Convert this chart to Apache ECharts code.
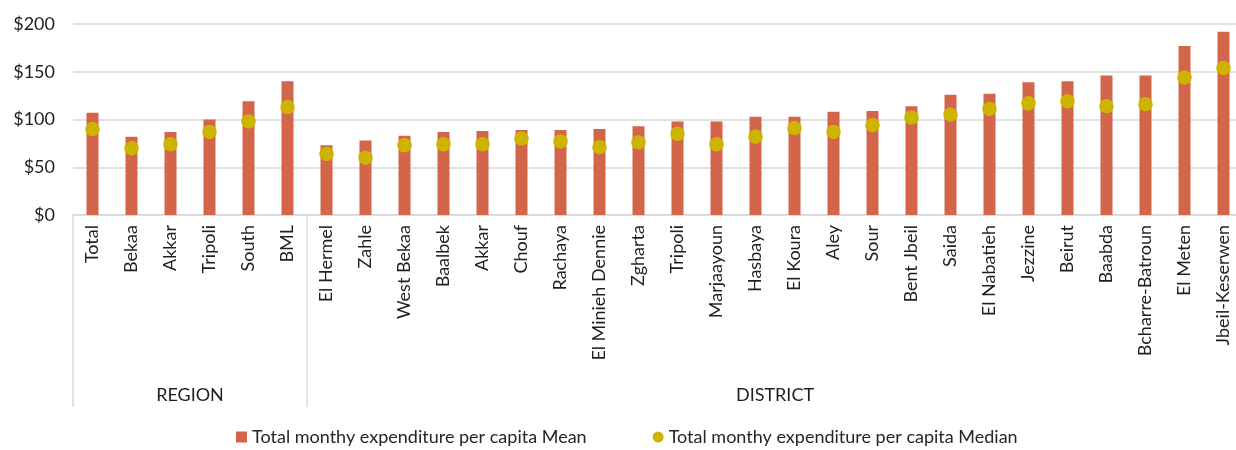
<!DOCTYPE html>
<html>
<head>
<meta charset="utf-8">
<title>Total monthly expenditure per capita</title>
<script src="https://cdn.jsdelivr.net/npm/echarts@6/dist/echarts.min.js"></script>
<style>
  html, body { margin: 0; padding: 0; background: #fff; }
  #chart { width: 1236px; height: 450px; }
</style>
</head>
<body>
<div id="chart"></div>
<script>
// Category names, split by grouping level
const regionNames = ['Total', 'Bekaa', 'Akkar', 'Tripoli', 'South', 'BML'];
const districtNames = [
  'El Hermel', 'Zahle', 'West Bekaa', 'Baalbek', 'Akkar', 'Chouf', 'Rachaya',
  'El Minieh Dennie', 'Zgharta', 'Tripoli', 'Marjaayoun', 'Hasbaya', 'El Koura',
  'Aley', 'Sour', 'Bent Jbeil', 'Saida', 'El Nabatieh', 'Jezzine', 'Beirut',
  'Baabda', 'Bcharre-Batroun', 'El Meten', 'Jbeil-Keserwen'
];
const groupLabels = ['REGION', 'DISTRICT'];

// Monthly expenditure per capita (USD)
const regionMean = [107, 82, 87, 100, 119, 140];
const districtMean = [
  73, 78, 83, 87, 88, 89, 89, 90, 93, 98, 98, 103, 103,
  108, 109, 114, 126, 127, 139, 140, 146, 146, 177, 192
];
const regionMedian = [90, 70, 74, 87, 98, 113];
const districtMedian = [
  64, 60, 73, 74, 74, 80, 77, 71, 76, 85, 74, 82, 91,
  87, 94, 102, 105, 111, 117, 119, 114, 116, 144, 154
];

const yTicks = { min: 0, max: 200, interval: 50 };
const seriesNames = [
  'Total monthy expenditure per capita Mean',
  'Total monthy expenditure per capita Median'
];

const categories = regionNames.concat(districtNames);
const meanValues = regionMean.concat(districtMean);
const medianValues = regionMedian.concat(districtMedian);

// Group boundaries and group label centres along the category scale
const groupSizes = [regionNames.length, districtNames.length];
const boundaries = [0];
const centres = [];
groupSizes.forEach(function (n, i) {
  const start = boundaries[i];
  boundaries.push(start + n);
  centres.push(start + n / 2);
});

const FONT = 'Lato, "Open Sans", sans-serif';
const FS = 18;
const TEXT = '#1f1f1f';
const BAR = '#D3654B';
const DOT = '#CDB400';
const GRID = '#D9D9D9';

const chart = echarts.init(document.getElementById('chart'), null, { renderer: 'canvas' });
chart.setOption({
  animation: false,
  textStyle: { fontFamily: FONT },
  grid: { left: 73, top: 24, width: 1170, height: 191, containLabel: false, outerBoundsMode: 'none' },
  legend: {
    top: 423,
    left: 231,
    itemGap: 66,
    itemWidth: 11,
    itemHeight: 11,
    textStyle: { fontFamily: FONT, fontSize: FS, color: '#262626' },
    data: [
      { name: seriesNames[0], icon: 'rect', itemStyle: { color: BAR } },
      { name: seriesNames[1], icon: 'circle', itemStyle: { color: DOT } }
    ]
  },
  xAxis: [
    {
      type: 'category',
      data: categories,
      axisLine: { show: true, lineStyle: { color: GRID, width: 1.5 } },
      axisTick: { show: false },
      axisLabel: {
        rotate: 90,
        margin: 10,
        fontSize: FS,
        color: TEXT,
        fontFamily: FONT,
        interval: 0
      }
    },
    {
      // Second level: group separators and group names
      type: 'value',
      position: 'bottom',
      min: boundaries[0],
      max: boundaries[boundaries.length - 1],
      axisLine: { show: false },
      splitLine: { show: false },
      axisTick: {
        show: true,
        customValues: boundaries,
        length: 192,
        lineStyle: { color: GRID, width: 1.5 }
      },
      axisLabel: {
        customValues: centres,
        margin: 171,
        fontSize: FS,
        color: TEXT,
        fontFamily: FONT,
        formatter: function (v) {
          const i = centres.indexOf(v);
          return i >= 0 ? groupLabels[i] : '';
        }
      }
    }
  ],
  yAxis: {
    type: 'value',
    min: yTicks.min,
    max: yTicks.max,
    interval: yTicks.interval,
    axisLine: { show: false },
    axisTick: { show: false },
    splitLine: { lineStyle: { color: GRID, width: 1.5 } },
    axisLabel: {
      margin: 18,
      fontSize: FS,
      color: TEXT,
      fontFamily: FONT,
      formatter: function (v) { return '$' + v; }
    }
  },
  series: [
    {
      name: seriesNames[0],
      type: 'bar',
      xAxisIndex: 0,
      data: meanValues,
      barWidth: 12,
      itemStyle: { color: BAR }
    },
    {
      name: seriesNames[1],
      type: 'scatter',
      xAxisIndex: 0,
      data: medianValues,
      symbol: 'circle',
      symbolSize: 14.5,
      itemStyle: { color: DOT, opacity: 1 },
      z: 3
    }
  ]
});
</script>
</body>
</html>
